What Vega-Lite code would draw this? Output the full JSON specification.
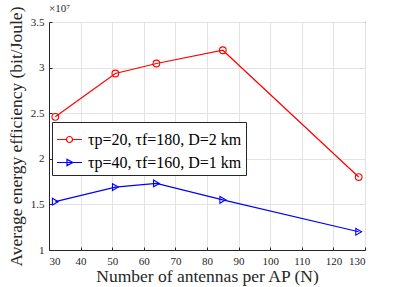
{
  "$schema": "https://vega.github.io/schema/vega-lite/v6.json",
  "width": 316,
  "height": 228,
  "autosize": {"type": "none"},
  "padding": {"left": 49, "top": 22, "right": 33, "bottom": 37},
  "background": "white",
  "title": {"text": "×10⁷", "anchor": "start", "frame": "group", "fontSize": 11, "font": "Liberation Serif", "fontWeight": "normal", "color": "#262626", "offset": -17, "baseline": "alphabetic"},
  "data": {"values": [
    {"N": 32, "ee": 2.46, "series": "τp=20, τf=180, D=2 km"},
    {"N": 51, "ee": 2.935, "series": "τp=20, τf=180, D=2 km"},
    {"N": 64, "ee": 3.045, "series": "τp=20, τf=180, D=2 km"},
    {"N": 85, "ee": 3.19, "series": "τp=20, τf=180, D=2 km"},
    {"N": 128, "ee": 1.80, "series": "τp=20, τf=180, D=2 km"},
    {"N": 32, "ee": 1.53, "series": "τp=40, τf=160, D=1 km"},
    {"N": 51, "ee": 1.69, "series": "τp=40, τf=160, D=1 km"},
    {"N": 64, "ee": 1.73, "series": "τp=40, τf=160, D=1 km"},
    {"N": 85, "ee": 1.55, "series": "τp=40, τf=160, D=1 km"},
    {"N": 128, "ee": 1.20, "series": "τp=40, τf=160, D=1 km"}
  ]},
  "config": {
    "font": "Liberation Serif",
    "view": {"stroke": "#262626", "strokeWidth": 1},
    "axis": {
      "domainColor": "#262626",
      "tickColor": "#262626",
      "tickSize": -3,
      "labelPadding": 8,
      "labelColor": "#262626",
      "labelFontSize": 11,
      "labelFont": "Liberation Serif",
      "titleFont": "Liberation Serif",
      "titleFontSize": 17.5,
      "titleFontWeight": "normal",
      "titleColor": "#262626",
      "gridColor": "#e3e3e3",
      "gridWidth": 1
    }
  },
  "encoding": {
    "x": {"field": "N", "type": "quantitative", "scale": {"domain": [30, 130], "nice": false},
      "axis": {"values": [30, 40, 50, 60, 70, 80, 90, 100, 110, 120, 130], "title": "Number of antennas per AP (N)", "titlePadding": 1}},
    "y": {"field": "ee", "type": "quantitative", "scale": {"domain": [1, 3.5], "nice": false, "zero": false},
      "axis": {"values": [1, 1.5, 2, 2.5, 3, 3.5], "format": "~g", "title": "Average energy efficiency (bit/Joule)", "titlePadding": 5}}
  },
  "layer": [
    {
      "mark": {"type": "line", "strokeWidth": 1.2},
      "encoding": {
        "color": {"field": "series", "type": "nominal",
          "scale": {"domain": ["τp=20, τf=180, D=2 km", "τp=40, τf=160, D=1 km"], "range": ["#ff0000", "#0000ff"]},
          "legend": {
            "title": null,
            "orient": "none",
            "legendX": 3,
            "legendY": 100,
            "direction": "vertical",
            "fillColor": "white",
            "strokeColor": "#262626",
            "padding": 4,
            "labelFontSize": 16,
            "labelFont": "Liberation Serif",
            "labelColor": "#000000",
            "labelLimit": 400,
            "symbolSize": 625,
            "symbolStrokeWidth": 1.2,
            "symbolFillColor": "white",
            "rowPadding": 1,
            "labelOffset": 5,
            "encode": {
              "symbols": {
                "update": {
                  "shape": {"signal": "datum.index == 0 ? 'M-1,0H-0.24M0.24,0H1M0.24,0A0.24,0.24,0,1,1,-0.24,0A0.24,0.24,0,1,1,0.24,0Z' : 'M-1,0H1M-0.2,-0.25L0.26,0L-0.2,0.25Z'"},
                  "fill": {"value": "transparent"}
                }
              }
            }
          }}
      }
    },
    {
      "transform": [{"filter": "datum.series == 'τp=20, τf=180, D=2 km'"}],
      "mark": {"type": "point", "shape": "circle", "filled": false, "size": 45, "strokeWidth": 1.1, "color": "#ff0000", "opacity": 1}
    },
    {
      "transform": [{"filter": "datum.series == 'τp=40, τf=160, D=1 km'"}],
      "mark": {"type": "point", "shape": "triangle-right", "filled": false, "size": 45, "strokeWidth": 1.1, "color": "#0000ff", "opacity": 1}
    }
  ]
}
